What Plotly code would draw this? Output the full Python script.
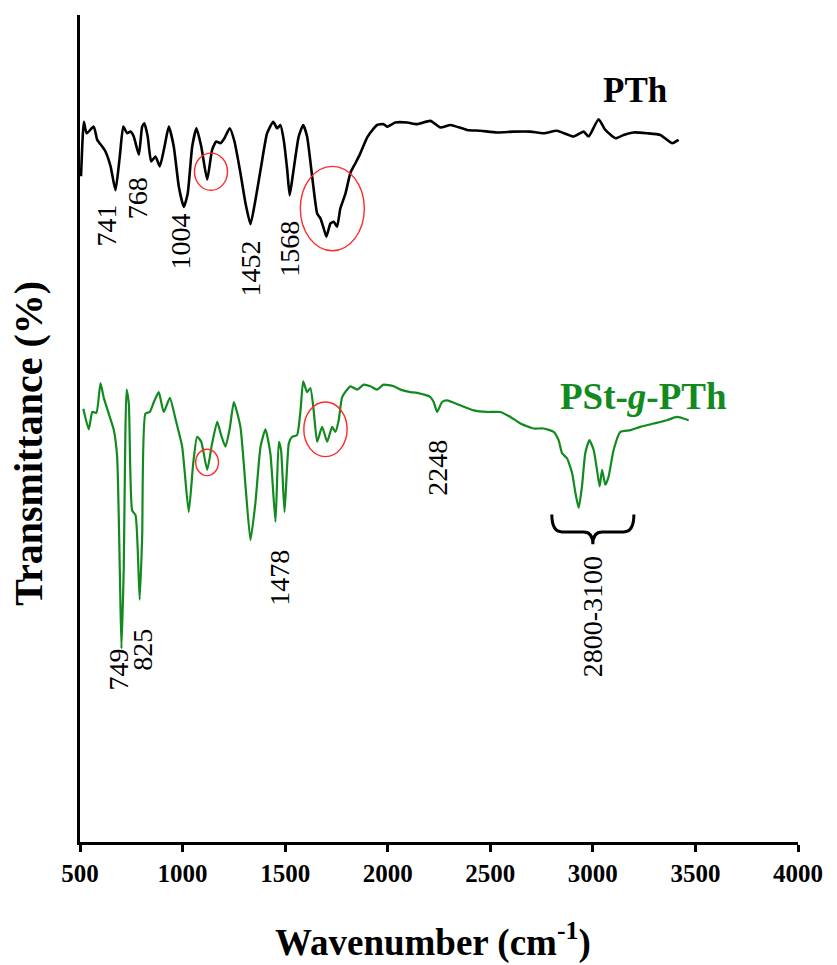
import plotly.graph_objects as go

# ---- data (y in arbitrary transmittance units) ----
pth_wn = [505, 519, 532, 567, 584, 608, 624, 649, 673, 694, 711, 730, 746, 762, 787, 803, 814, 830,
          847, 868, 889, 912, 933, 957, 982, 1006, 1025, 1047, 1068, 1091, 1120, 1144, 1164, 1185,
          1204, 1230, 1253, 1282, 1307, 1331, 1355, 1383, 1412, 1442, 1461, 1477, 1493, 1510, 1522,
          1539, 1566, 1588, 1607, 1632, 1656, 1672, 1688, 1701, 1721, 1737, 1753, 1769, 1794, 1818,
          1843, 1867, 1900, 1932, 1948, 1980, 1997, 2037, 2095, 2143, 2208, 2257, 2306, 2387, 2452,
          2533, 2614, 2695, 2760, 2825, 2906, 2955, 2979, 3028, 3061, 3110, 3150, 3199, 3264, 3329,
          3386, 3418]
pth_t = [80.5, 87.1, 85.7, 86.5, 84.9, 84.1, 83.5, 81.7, 78.8, 82.9, 86.5, 85.7, 85.9, 85.3, 83.1, 86.5,
         86.9, 85.3, 82.3, 82.9, 81.7, 84.1, 86.5, 84.1, 79.2, 76.8, 78.4, 84.1, 86.3, 84.1, 80.1, 83.7,
         84.7, 84.5, 85.1, 86.3, 84.7, 80.9, 77.2, 74.7, 77.6, 81.7, 85.7, 87.1, 86.3, 86.7, 84.9, 81.3,
         78.2, 80.9, 85.3, 86.7, 85.3, 80.4, 76.0, 75.4, 74.2, 73.2, 74.8, 75.0, 74.4, 76.6, 78.4, 80.9,
         82.1, 83.3, 85.2, 86.3, 86.7, 86.8, 86.5, 87.0, 87.0, 86.8, 87.2, 86.4, 86.7, 86.1, 86.0, 85.8,
         85.9, 85.9, 85.7, 86.0, 85.3, 85.9, 85.3, 87.4, 86.1, 85.1, 85.5, 85.8, 85.7, 85.5, 84.5, 84.9]

pst_wn = [516, 543, 560, 580, 600, 616, 640, 665, 681, 694, 702, 713, 727, 738, 754, 771, 791, 803,
          819, 840, 860, 884, 908, 938, 965, 998, 1030, 1052, 1071, 1091, 1120, 1144, 1169, 1188, 1209,
          1230, 1250, 1282, 1307, 1331, 1355, 1380, 1404, 1428, 1453, 1469, 1480, 1497, 1518, 1534,
          1558, 1575, 1588, 1607, 1623, 1639, 1656, 1680, 1705, 1729, 1745, 1761, 1778, 1818, 1851,
          1883, 1916, 1948, 1980, 2029, 2062, 2111, 2143, 2208, 2224, 2241, 2265, 2289, 2354, 2419,
          2484, 2549, 2598, 2647, 2711, 2760, 2809, 2833, 2850, 2874, 2899, 2915, 2931, 2947, 2963,
          2983, 3004, 3020, 3033, 3045, 3061, 3077, 3101, 3134, 3183, 3231, 3296, 3361, 3410, 3467]
pst_t = [52.4, 49.9, 52.0, 51.9, 55.5, 53.7, 51.8, 49.8, 46.6, 32.9, 23.4, 32.9, 54.7, 53.0, 40.1, 39.5,
         29.3, 36.9, 51.8, 52.0, 53.2, 54.4, 52.0, 53.7, 51.2, 47.8, 39.9, 45.8, 49.0, 48.4, 45.0, 48.2,
         50.8, 49.2, 47.8, 50.0, 53.2, 50.2, 43.0, 36.5, 41.0, 47.8, 49.9, 47.0, 38.7, 48.4, 47.4, 39.9,
         48.2, 49.0, 49.2, 52.2, 55.7, 54.4, 54.9, 52.2, 48.4, 50.2, 48.4, 50.2, 49.6, 51.0, 53.8, 55.1,
         54.7, 55.3, 55.1, 54.7, 55.3, 55.1, 54.7, 54.4, 54.3, 53.8, 53.2, 52.0, 53.2, 53.4, 52.8, 52.2,
         52.0, 52.0, 51.4, 50.6, 50.0, 50.0, 49.6, 48.6, 47.0, 46.4, 44.6, 42.2, 40.4, 43.0, 47.0, 48.6,
         47.4, 45.0, 43.0, 45.0, 43.2, 44.2, 47.4, 49.6, 49.8, 50.2, 50.6, 51.0, 51.4, 51.0]

x_ticks = [500, 1000, 1500, 2000, 2500, 3000, 3500, 4000]

# peak labels
pth_labels = ["741", "768", "1004", "1452", "1568"]
pth_label_wn = [629, 780, 992, 1331, 1521]
pth_label_t = [74.6, 77.9, 72.6, 69.4, 71.8]
pst_labels = ["749", "825", "1478", "2248", "2800-3100"]
pst_label_wn = [688, 805, 1472, 2242, 2997]
pst_label_t = [20.8, 23.2, 32.0, 45.3, 27.2]

SERIF = "Liberation Serif, Times New Roman, serif"
GREEN = "#118a1e"

fig = go.Figure()
fig.add_trace(go.Scatter(x=pth_wn, y=pth_t, mode="lines",
                         line=dict(color="black", width=2.6, shape="spline", smoothing=0.5),
                         name="PTh"))
fig.add_trace(go.Scatter(x=pst_wn, y=pst_t, mode="lines",
                         line=dict(color=GREEN, width=2.2, shape="spline", smoothing=0.5),
                         name="PSt-g-PTh"))

ann = []
for t, x, y in zip(pth_labels + pst_labels, pth_label_wn + pst_label_wn, pth_label_t + pst_label_t):
    ann.append(dict(text=t, x=x, y=y, xref="x", yref="y", showarrow=False, textangle=-90,
                    font=dict(family=SERIF, size=28, color="black")))
ann.append(dict(text="<b>PTh</b>", x=3207, y=90.9, xref="x", yref="y", showarrow=False,
                font=dict(family=SERIF, size=35, color="black")))
ann.append(dict(text="<b>PSt-<i>g</i>-PTh</b>", x=3245, y=53.9, xref="x", yref="y", showarrow=False,
                font=dict(family=SERIF, size=37, color=GREEN)))
ann.append(dict(text="<b>Wavenumber (cm<sup>-1</sup>)</b>", x=0.492, y=-0.118, xref="paper", yref="paper",
                showarrow=False, yanchor="middle",
                font=dict(family=SERIF, size=37, color="black")))
ann.append(dict(text="<b>Transmittance (%)</b>", x=-0.072, y=0.482, xref="paper", yref="paper",
                showarrow=False, textangle=-90, xanchor="center",
                font=dict(family=SERIF, size=40, color="black")))

red = dict(color="#ff2a2a", width=1.4)
shapes = [
    dict(type="circle", xref="x", yref="y", x0=1058, x1=1219, y0=78.8, y1=83.3, line=red),
    dict(type="circle", xref="x", yref="y", x0=1574, x1=1886, y0=71.5, y1=81.7, line=red),
    dict(type="circle", xref="x", yref="y", x0=1064, x1=1175, y0=44.3, y1=47.5, line=red),
    dict(type="circle", xref="x", yref="y", x0=1591, x1=1802, y0=46.6, y1=53.2, line=red),
    dict(type="path", xref="x", yref="y",
         path="M 2800,39.6 Q 2800,37.5 2850,37.5 L 2955,37.5 Q 3000,37.5 3000,36.0 "
              "Q 3000,37.5 3045,37.5 L 3150,37.5 Q 3200,37.5 3200,39.6",
         line=dict(color="black", width=3)),
]

fig.update_layout(
    width=837, height=965,
    margin=dict(l=80, r=39, t=15, b=123),
    paper_bgcolor="white", plot_bgcolor="white",
    showlegend=False,
    annotations=ann, shapes=shapes,
    xaxis=dict(range=[500, 4000], tickvals=x_ticks, ticks="outside", ticklen=7, tickwidth=2.5,
               tickcolor="black", showline=True, linecolor="black", linewidth=2.5,
               showgrid=False, zeroline=False,
               tickfont=dict(family=SERIF, size=25, color="black", weight="bold")),
    yaxis=dict(range=[0, 100], showticklabels=False, ticks="", showline=True, linecolor="black",
               linewidth=2.5, showgrid=False, zeroline=False),
)

fig.write_html("out.html")
